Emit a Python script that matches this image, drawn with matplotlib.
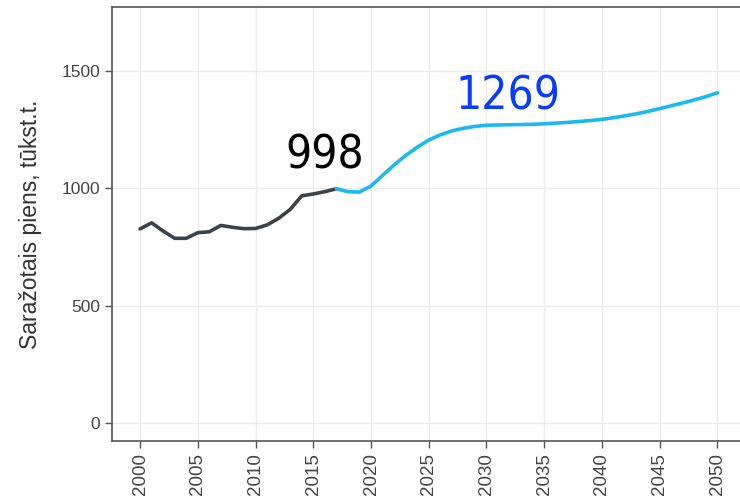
import matplotlib.pyplot as plt

years_hist = list(range(2000, 2018))
milk_hist = [827, 853, 818, 787, 787, 811, 815, 842, 834, 828, 829, 844, 872, 910, 968, 976, 986, 998]

years_proj = list(range(2017, 2051))
milk_proj = [998, 986, 984, 1010, 1055, 1100, 1140, 1175, 1206, 1228, 1245, 1256, 1264, 1269,
             1270, 1271, 1272, 1273, 1275, 1278, 1281, 1285, 1289, 1294, 1301, 1309, 1318,
             1328, 1340, 1352, 1364, 1377, 1391, 1407]

xticks = list(range(2000, 2051, 5))
yticks = [0, 500, 1000, 1500]

plt.rcParams['font.family'] = ['Liberation Sans', 'DejaVu Sans']

fig = plt.figure(figsize=(7.4, 5.01), dpi=100)
ax = fig.add_axes([112 / 740, 60 / 501, 632 / 740, 434 / 501])

ax.plot(years_hist, milk_hist, color='#3b4349', lw=2.6, solid_capstyle='round', zorder=3)
ax.plot(years_proj, milk_proj, color='#1cb9f0', lw=2.6, solid_capstyle='round', zorder=3)

# condensed numbers above the lines
ax.text(2016.0, 1086, '998', fontsize=33, family='DejaVu Sans', stretch='condensed',
        color='black', ha='center', va='baseline')
ax.text(2031.9, 1334, '1269', fontsize=33, family='DejaVu Sans', stretch='condensed',
        color='#0a3cff', ha='center', va='baseline')

ax.set_xlim(1997.57, 2052.3)
ax.set_ylim(-77, 1773)
ax.set_xticks(xticks)
ax.set_xticklabels([str(y) for y in xticks], rotation=90, fontsize=13.5)
ax.set_yticks(yticks)
ax.tick_params(colors='#555555', labelcolor='#444444', length=5, width=1)
ax.tick_params(axis='y', labelsize=12.5)
ax.grid(True, color='#ebebeb', lw=1)
ax.set_axisbelow(True)
for s in ax.spines.values():
    s.set_color('#555555')
    s.set_linewidth(1.2)
ax.set_ylabel('Saražotais piens, tūkst.t.', fontsize=16.5, color='#333333', labelpad=14)

fig.savefig('out.png', dpi=100)
